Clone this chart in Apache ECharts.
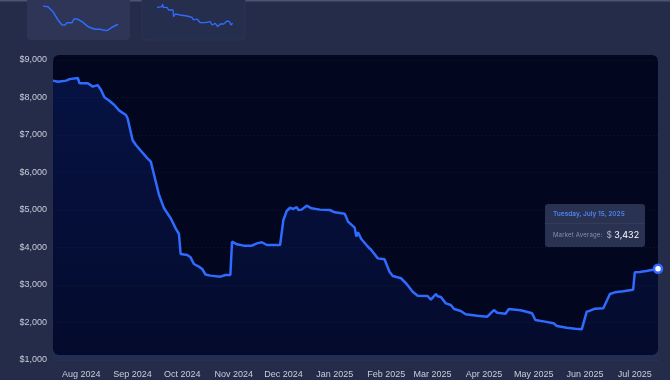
<!DOCTYPE html>
<html>
<head>
<meta charset="utf-8">
<script src="https://cdn.jsdelivr.net/npm/echarts@6/dist/echarts.min.js"></script>
<style>
html,body{margin:0;padding:0;background:#242c4a;}
#chart{width:670px;height:380px;}
</style>
</head>
<body>
<div id="chart"></div>
<script>
// ---- data ----
var dates = ['2024-07-15','2024-07-18','2024-07-23','2024-07-25','2024-07-30','2024-07-31','2024-08-05','2024-08-08','2024-08-11','2024-08-13','2024-08-15','2024-08-18','2024-08-21','2024-08-24','2024-08-28','2024-08-29','2024-09-01','2024-09-03','2024-09-10','2024-09-12','2024-09-17','2024-09-20','2024-09-24','2024-09-27','2024-09-29','2024-09-30','2024-10-04','2024-10-06','2024-10-08','2024-10-11','2024-10-13','2024-10-15','2024-10-18','2024-10-24','2024-10-27','2024-10-30','2024-10-31','2024-11-03','2024-11-07','2024-11-12','2024-11-13','2024-11-15','2024-11-18','2024-11-21','2024-11-26','2024-11-27','2024-11-29','2024-12-01','2024-12-03','2024-12-05','2024-12-07','2024-12-09','2024-12-10','2024-12-12','2024-12-15','2024-12-18','2024-12-23','2024-12-29','2025-01-01','2025-01-07','2025-01-09','2025-01-13','2025-01-14','2025-01-15','2025-01-17','2025-01-21','2025-01-23','2025-01-27','2025-01-31','2025-02-03','2025-02-05','2025-02-10','2025-02-13','2025-02-17','2025-02-18','2025-02-20','2025-02-26','2025-02-28','2025-03-03','2025-03-04','2025-03-06','2025-03-09','2025-03-12','2025-03-14','2025-03-18','2025-03-21','2025-03-28','2025-04-03','2025-04-04','2025-04-07','2025-04-09','2025-04-14','2025-04-16','2025-04-23','2025-04-25','2025-04-30','2025-05-02','2025-05-07','2025-05-13','2025-05-15','2025-05-21','2025-05-26','2025-05-30','2025-06-02','2025-06-04','2025-06-07','2025-06-12','2025-06-16','2025-06-19','2025-06-24','2025-06-30','2025-07-01','2025-07-04','2025-07-08','2025-07-15'];
var marketAverage = [8450,8420,8450,8490,8520,8380,8380,8290,8330,8200,8005,7915,7800,7650,7535,7445,6867,6733,6378,6290,5400,5045,4780,4510,4360,3827,3800,3738,3560,3490,3427,3280,3250,3222,3267,3267,4155,4085,4050,4050,4015,4110,4140,4067,4067,4100,4067,4733,4973,5060,5027,5080,5000,5010,5115,5045,5010,5000,4937,4900,4690,4530,4290,4405,4227,4020,3933,3710,3685,3355,3240,3180,3045,2822,2805,2715,2707,2610,2760,2700,2680,2510,2467,2360,2307,2218,2180,2155,2180,2333,2260,2235,2360,2325,2307,2245,2067,2030,1978,1907,1862,1835,1818,2290,2315,2368,2378,2760,2805,2832,2875,3340,3347,3373,3432];

var xTickDates = ['2024-08-01','2024-09-01','2024-10-01','2024-11-01','2024-12-01','2025-01-01','2025-02-01','2025-03-01','2025-04-01','2025-05-01','2025-06-01','2025-07-01'];
var xTickLabels = ['Aug 2024','Sep 2024','Oct 2024','Nov 2024','Dec 2024','Jan 2025','Feb 2025','Mar 2025','Apr 2025','May 2025','Jun 2025','Jul 2025'];
var yTicks = [1000,2000,3000,4000,5000,6000,7000,8000,9000];

// sparkline thumbnails
var spark1X = [0,5,10,15,19,22,24,29,31,34,39,45,52,57,60,64,66,70,75];
var spark1Y = [94,93.3,88.3,80,75,75,77.3,77.3,81,81,78.3,73.3,70.7,70.7,70,69.3,70.7,73.3,75.7];
var spark2X = [0,5,5.6,6.2,10,11.6,16,16.6,18.3,23.3,30,35,36.6,40,43.3,48.3,53.3,55,58.3,60.6,63.3,66.6,70,72.6,74,75.6];
var spark2Y = [92.7,93.3,96,92.7,92.7,90,90,83.3,86,85,84,82.7,80,81,77.3,77.3,78.3,75,76.7,73.3,76,76,79,78.3,75,76.7];

// ---- chart ----
function toTime(s){ var p = s.split('-'); return Date.UTC(+p[0], +p[1]-1, +p[2]); }
var chart = echarts.init(document.getElementById('chart'), null, {renderer:'canvas'});
var mainData = dates.map(function(d,i){
  var item = {value:[toTime(d), marketAverage[i]], date:d};
  if (i === dates.length - 1) {
    item.symbol = 'circle';
    item.symbolSize = 8;
    item.itemStyle = {color:'#ffffff', borderColor:'#2f6bff', borderWidth:2.5};
  }
  return item;
});
var tickTimes = xTickDates.map(toTime);
function pair(xs, ys){ return xs.map(function(x,i){ return [x, ys[i]]; }); }
var DAYS = ['Sunday','Monday','Tuesday','Wednesday','Thursday','Friday','Saturday'];
var MONTHS = ['January','February','March','April','May','June','July','August','September','October','November','December'];

var option = {
  backgroundColor:'#242c4a',
  animation:false,
  textStyle:{fontFamily:'Liberation Sans, Arial, sans-serif'},
  graphic:[
    {type:'rect', z:-10, shape:{x:0,y:0,width:670,height:1.5}, style:{fill:'#4c5373'}},
    {type:'rect', z:-10, shape:{x:27,y:-6,width:103,height:46,r:4}, style:{fill:'#2e3556'}},
    {type:'rect', z:-10, shape:{x:142,y:-6,width:103,height:46,r:4}, style:{fill:'#262e4d', stroke:'#2b3352', lineWidth:1}},
    {type:'rect', z:-10, shape:{x:53,y:55,width:605,height:300,r:6}, style:{fill:'#02061f'}}
  ],
  grid:[
    {left:53, right:12, top:60, bottom:20},
    {left:43, width:75, top:6, height:24.7},
    {left:157, width:75.6, top:4, height:22.7}
  ],
  xAxis:[
    {type:'value', gridIndex:0, min:toTime(dates[0]), max:toTime(dates[dates.length-1]),
     axisLine:{show:false}, axisTick:{show:false}, splitLine:{show:false},
     axisLabel:{customValues:tickTimes, color:'#c9ccd8', fontSize:9, margin:10, showMinLabel:true, showMaxLabel:true,
       formatter:function(v){ var i = tickTimes.indexOf(v); return i>=0 ? xTickLabels[i] : ''; }}},
    {type:'value', gridIndex:1, min:0, max:75, show:false},
    {type:'value', gridIndex:2, min:0, max:75.6, show:false}
  ],
  yAxis:[
    {type:'value', gridIndex:0, min:yTicks[0], max:yTicks[yTicks.length-1], interval:1000,
     axisLine:{show:false}, axisTick:{show:false},
     splitLine:{show:true, lineStyle:{color:'rgba(255,255,255,0.07)', type:[1,3]}},
     axisLabel:{color:'#c9ccd8', fontSize:9, margin:6,
       formatter:function(v){ return '$' + v.toLocaleString('en-US'); }}},
    {type:'value', gridIndex:1, min:69.3, max:94, show:false},
    {type:'value', gridIndex:2, min:73.3, max:96, show:false}
  ],
  tooltip:{
    trigger:'item', triggerOn:'none', alwaysShowContent:true,
    position:[545,204], padding:0, borderWidth:0, backgroundColor:'transparent',
    extraCssText:'box-shadow:none;',
    formatter:function(p){
      var d = new Date(p.value[0]);
      var ds = DAYS[d.getUTCDay()] + ', ' + MONTHS[d.getUTCMonth()] + ' ' + d.getUTCDate() + ', ' + d.getUTCFullYear();
      var v = p.value[1].toLocaleString('en-US');
      return '<div style="width:100px;background:#2a3252;border-radius:3px;font-family:Inter,sans-serif;">'+
        '<div style="padding:6px 7px 5px 8px;color:#4e82ec;font-size:6.5px;font-weight:600;border-bottom:1px solid #343c5c;line-height:8px;">'+ds+'</div>'+
        '<div style="padding:4px 7px 5px 8px;display:flex;align-items:center;line-height:14px;white-space:nowrap;">'+
        '<span style="color:#8a90a8;font-size:6px;letter-spacing:0.2px;">Market Average:</span>'+
        '<span style="margin-left:4px;color:#a8adc0;font-size:8.5px;">$ <span style="color:#ffffff;font-size:9px;">'+v+'</span></span></div></div>';
    }
  },
  series:[
    {type:'line', xAxisIndex:0, yAxisIndex:0, data:mainData, symbol:'none', showSymbol:true, showAllSymbol:true,
     lineStyle:{color:'#2f6bff', width:2.5}, z:3,
     areaStyle:{color:new echarts.graphic.LinearGradient(0,0,0,1,[
       {offset:0, color:'rgba(20,60,190,0.32)'},
       {offset:1, color:'rgba(20,60,190,0.12)'}])}},
    {type:'line', xAxisIndex:1, yAxisIndex:1, data:pair(spark1X, spark1Y), symbol:'none', silent:true,
     lineStyle:{color:'#2f6bff', width:1.5}},
    {type:'line', xAxisIndex:2, yAxisIndex:2, data:pair(spark2X, spark2Y), symbol:'none', silent:true,
     lineStyle:{color:'#2f6bff', width:1.3}}
  ]
};
chart.setOption(option);
chart.dispatchAction({type:'showTip', seriesIndex:0, dataIndex:dates.length-1});
</script>
</body>
</html>
